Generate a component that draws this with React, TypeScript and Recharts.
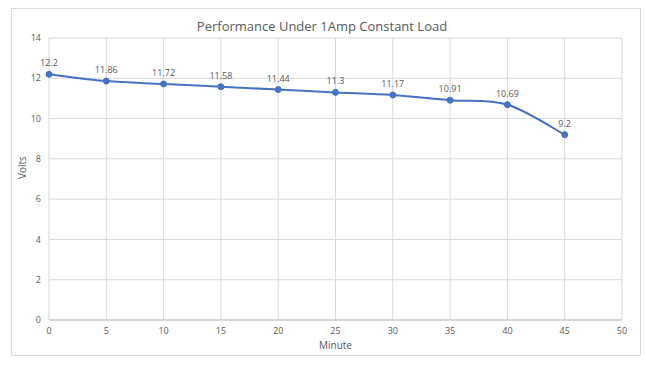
import React from 'react';
import { LineChart, Line, XAxis, YAxis, CartesianGrid, LabelList } from 'recharts';

const minutes = [0, 5, 10, 15, 20, 25, 30, 35, 40, 45];
const volts = [12.2, 11.86, 11.72, 11.58, 11.44, 11.3, 11.17, 10.91, 10.69, 9.2];
const xTicks = [0, 5, 10, 15, 20, 25, 30, 35, 40, 45, 50];
const yTicks = [0, 2, 4, 6, 8, 10, 12, 14];

const data = minutes.map((m, i) => ({ minute: m, volts: volts[i] }));

const excelCurve = (context: any) => {
  let pts: number[][] = [];
  return {
    areaStart() {},
    areaEnd() {},
    lineStart() { pts = []; },
    point(x: number, y: number) { pts.push([+x, +y]); },
    lineEnd() {
      const n = pts.length;
      if (!n) return;
      context.moveTo(pts[0][0], pts[0][1]);
      for (let i = 0; i < n - 1; i++) {
        const p0 = pts[Math.max(i - 1, 0)];
        const p1 = pts[i];
        const p2 = pts[i + 1];
        const p3 = pts[Math.min(i + 2, n - 1)];
        context.bezierCurveTo(
          p1[0] + (p2[0] - p0[0]) / 6, p1[1] + (p2[1] - p0[1]) / 6,
          p2[0] - (p3[0] - p1[0]) / 6, p2[1] - (p3[1] - p1[1]) / 6,
          p2[0], p2[1]
        );
      }
    },
  };
};

const font = 'Open Sans, Noto Sans, sans-serif';

export default function App() {
  return (
    <div style={{ position: 'absolute', left: 0, top: 0, width: 646, height: 366, background: '#fff', fontFamily: font }}>
      <div style={{ position: 'absolute', left: 11, top: 8, width: 628, height: 346, border: '1px solid #d9d9d9' }} />
      <div style={{ position: 'absolute', left: 0, top: 0 }}>
        <LineChart width={646} height={366} data={data} margin={{ top: 38, right: 24, bottom: 16, left: 19 }}>
          <text x={322} y={31} textAnchor="middle" fontSize={13} fill="#595959" fontFamily={font}>
            Performance Under 1Amp Constant Load
          </text>
          <CartesianGrid stroke="#d9d9d9" strokeWidth={1} />
          <XAxis
            dataKey="minute"
            type="number"
            domain={[0, 50]}
            ticks={xTicks}
            height={30}
            tickLine={false}
            axisLine={{ stroke: '#bfbfbf', strokeWidth: 1 }}
            tick={{ fontSize: 9, fill: '#595959', fontFamily: font }}
            tickMargin={2}
            label={{ value: 'Minute', position: 'insideBottom', offset: 1, fontSize: 10, fill: '#595959', fontFamily: font }}
          />
          <YAxis
            type="number"
            domain={[0, 14]}
            ticks={yTicks}
            width={30}
            tickLine={false}
            axisLine={false}
            tick={{ fontSize: 9, fill: '#595959', fontFamily: font }}
            label={{ value: 'Volts', angle: -90, position: 'insideLeft', offset: 0, dx: 3, fontSize: 10, fill: '#595959', fontFamily: font }}
          />
          <Line
            dataKey="volts"
            type={excelCurve as any}
            stroke="#4472C4"
            strokeWidth={2}
            dot={{ r: 3, fill: '#4472C4', stroke: '#4472C4', strokeWidth: 1 }}
            isAnimationActive={false}
          >
            <LabelList dataKey="volts" position="top" offset={8} fontSize={9} fill="#595959" fontFamily={font} />
          </Line>
        </LineChart>
      </div>
    </div>
  );
}
